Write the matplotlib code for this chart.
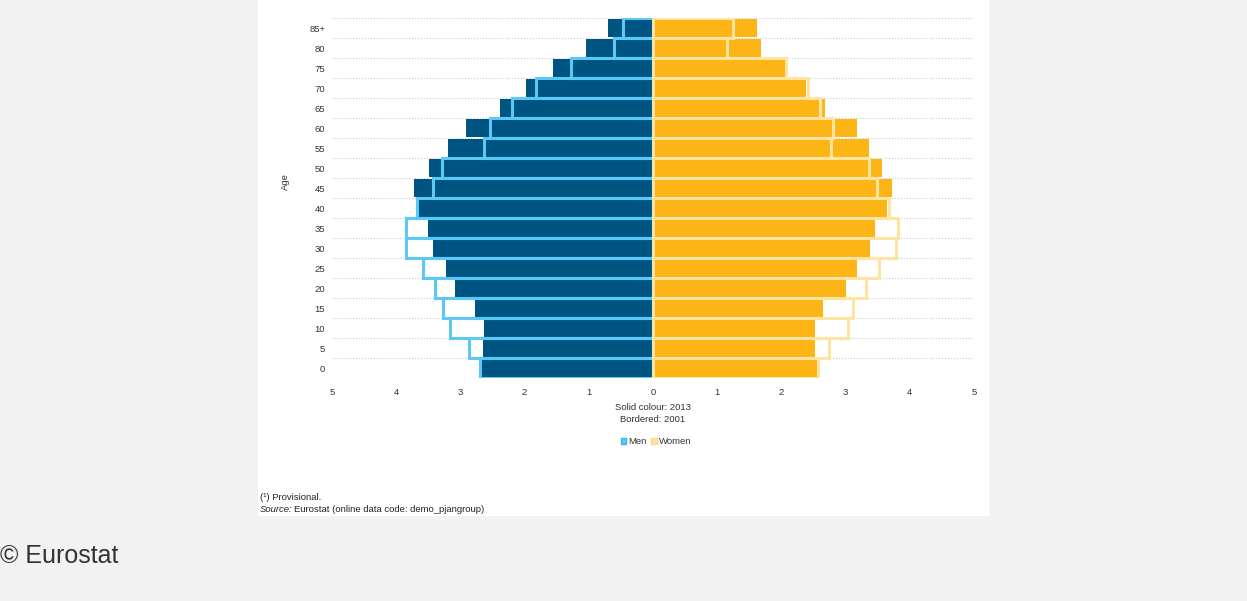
"""
Population pyramid, 2013 (solid) against 2001 (bordered), % of total population

"""

import numpy as np
import matplotlib.pyplot as plt
from matplotlib.patches import Rectangle, Patch

# Age classes, bottom to top
age_labels = ['0', '5', '10', '15', '20', '25', '30', '35', '40', '45',
              '50', '55', '60', '65', '70', '75', '80', '85+']

# Share of total population (%) per age class
men_2013 = [2.67, 2.65, 2.64, 2.78, 3.09, 3.22, 3.42, 3.50, 3.64,
            3.73, 3.49, 3.19, 2.92, 2.39, 1.98, 1.55, 1.04, 0.70]
men_2001 = [2.69, 2.87, 3.16, 3.27, 3.40, 3.59, 3.85, 3.85, 3.67,
            3.43, 3.28, 2.63, 2.54, 2.20, 1.82, 1.27, 0.61, 0.47]
women_2013 = [2.55, 2.53, 2.52, 2.65, 3.00, 3.17, 3.38, 3.46, 3.65,
              3.73, 3.56, 3.36, 3.17, 2.68, 2.38, 2.11, 1.68, 1.62]
women_2001 = [2.57, 2.74, 3.03, 3.12, 3.32, 3.52, 3.78, 3.81, 3.67,
              3.49, 3.37, 2.77, 2.81, 2.60, 2.41, 2.07, 1.16, 1.24]

x_ticks = [-5, -4, -3, -2, -1, 0, 1, 2, 3, 4, 5]

MEN_SOLID = '#005482'
MEN_BORDER = '#5cc8f5'
WOMEN_SOLID = '#fdb515'
WOMEN_BORDER = '#ffe3a3'

W, H = 1247, 601
FS = 6.8

plt.rcParams['font.family'] = ['Liberation Sans', 'DejaVu Sans']

fig = plt.figure(figsize=(W / 100, H / 100), dpi=100)
fig.patch.set_facecolor('#f2f2f2')

# white panel behind the chart (below the axes)
fig.patches.append(Rectangle((258 / W, 1 - 516 / H), (989 - 258) / W, 516 / H,
                             transform=fig.transFigure, facecolor='white',
                             edgecolor='none', zorder=-1))

ax = fig.add_axes([332 / W, 1 - 378 / H, (974 - 332) / W, 360 / H])
ax.set_facecolor('none')

y = np.arange(len(age_labels))

# gridlines between the age classes
for b in np.arange(-0.5, len(age_labels), 1.0):
    ax.axhline(b, color='#c8c8c8', linestyle=':', linewidth=0.8, zorder=0)

# 2013 solid bars
ax.barh(y, -np.array(men_2013), height=0.94, color=MEN_SOLID, zorder=2)
ax.barh(y, women_2013, height=0.94, color=WOMEN_SOLID, zorder=2)

# 2001 bordered bars
ax.barh(y, -np.array(men_2001), height=1.0, facecolor='none',
        edgecolor=MEN_BORDER, linewidth=2.2, zorder=3)
ax.barh(y, women_2001, height=1.0, facecolor='none',
        edgecolor=WOMEN_BORDER, linewidth=2.2, zorder=3)

ax.set_xlim(-5, 5)
ax.set_ylim(-0.5, len(age_labels) - 0.5)
ax.set_xticks(x_ticks)
ax.set_xticklabels([str(abs(t)) for t in x_ticks], fontsize=FS, color='#333333')
ax.set_yticks(y)
ax.set_yticklabels(age_labels, fontsize=FS, color='#333333')
ax.tick_params(axis='both', length=0)
ax.tick_params(axis='x', pad=7)
ax.tick_params(axis='y', pad=5)
for s in ax.spines.values():
    s.set_visible(False)

fig.text(285 / W, 1 - 182 / H, 'Age', rotation=90, fontsize=FS,
         color='#333333', ha='center', va='center')

fig.text(653 / W, 1 - 408 / H, 'Solid colour: 2013', fontsize=FS,
         color='#333333', ha='center', va='center')
fig.text(653 / W, 1 - 419 / H, 'Bordered: 2001', fontsize=FS,
         color='#333333', ha='center', va='center')

handles = [Patch(facecolor=MEN_BORDER, edgecolor='#3fb4e8', label='Men'),
           Patch(facecolor=WOMEN_BORDER, edgecolor='#fcd88a', label='Women')]
leg = fig.legend(handles=handles, loc='center', bbox_to_anchor=(656 / W, 1 - 442 / H),
                 ncol=2, frameon=False, fontsize=FS, handlelength=0.6,
                 handleheight=0.6, handletextpad=0.2, columnspacing=0.5)
for t in leg.get_texts():
    t.set_color('#333333')

# footnotes
fig.text(260 / W, 1 - 497 / H, '(\u00b9) Provisional.', fontsize=FS,
         color='#222222', ha='left', va='center')
fig.text(260 / W, 1 - 510 / H, 'Source:', fontsize=FS, style='italic',
         color='#222222', ha='left', va='center')
fig.text(294 / W, 1 - 510 / H, 'Eurostat (online data code: demo_pjangroup)',
         fontsize=FS, color='#222222', ha='left', va='center')

fig.text(0 / W, 1 - 556 / H, '\u00a9 Eurostat', fontsize=18,
         color='#333333', ha='left', va='center')

fig.savefig('out.png', dpi=100, facecolor=fig.get_facecolor())
